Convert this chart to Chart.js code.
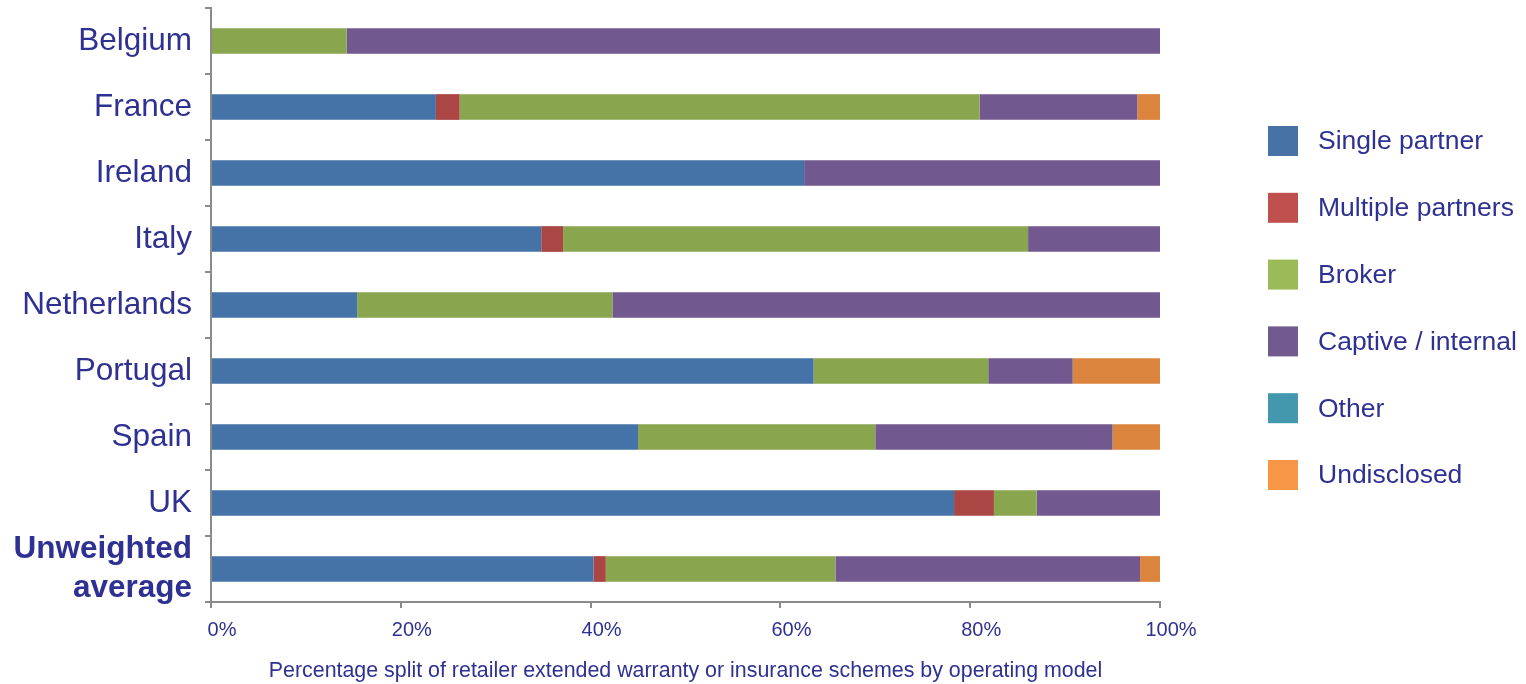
<!DOCTYPE html>
<html>
<head>
<meta charset="utf-8">
<script src="https://cdn.jsdelivr.net/npm/chart.js@4"></script>
<style>
  html, body { margin: 0; padding: 0; background: #fff; }
  #wrap { width: 1526px; height: 684px; }
</style>
</head>
<body>
<div id="wrap"><canvas id="chart"></canvas></div>
<script>
// --- Data (percent of schemes) ---
const categories = ['Belgium', 'France', 'Ireland', 'Italy', 'Netherlands', 'Portugal', 'Spain', 'UK', ['Unweighted', 'average']];
const seriesNames = ['Single partner', 'Multiple partners', 'Broker', 'Captive / internal', 'Other', 'Undisclosed'];
const singlePartner    = [0, 23.7, 62.5, 34.8, 15.4, 63.5, 45.0, 78.3, 40.3];
const multiplePartners = [0, 2.5, 0, 2.3, 0, 0, 0, 4.2, 1.3];
const broker           = [14.3, 54.8, 0, 49.0, 26.9, 18.4, 25.0, 4.5, 24.2];
const captive          = [85.7, 16.6, 37.5, 13.9, 57.7, 8.9, 25.0, 13.0, 32.1];
const other            = [0, 0, 0, 0, 0, 0, 0, 0, 0];
const undisclosed      = [0, 2.4, 0, 0, 0, 9.2, 5.0, 0, 2.1];
const xTicks = [0, 20, 40, 60, 80, 100];

const barColors    = ['#4572A7', '#AA4643', '#89A54E', '#71588F', '#4198AF', '#DB843D'];
const legendColors = ['#4672A6', '#C0504D', '#9BBB59', '#705A8E', '#4398AE', '#F79646'];
const textColor = '#2E3192';
const axisColor = '#8a8a8a';
const fontFamily = '"Liberation Sans", Arial, sans-serif';

const seriesData = [singlePartner, multiplePartners, broker, captive, other, undisclosed];

// --- Legend drawn on the right like the original ---
const sideLegend = {
  id: 'sideLegend',
  afterDraw(chart) {
    const ctx = chart.ctx;
    const area = chart.chartArea;
    const step = 66.8;
    const mid = (area.top + area.bottom) / 2 + 3;
    const startY = mid - step * (seriesNames.length - 1) / 2;
    ctx.save();
    ctx.font = '26.5px ' + fontFamily;
    ctx.textBaseline = 'middle';
    ctx.textAlign = 'left';
    seriesNames.forEach((name, i) => {
      const cy = startY + i * step;
      ctx.fillStyle = legendColors[i];
      ctx.fillRect(1268, cy - 15, 30, 30);
      ctx.fillStyle = textColor;
      ctx.fillText(name, 1318, cy + 1);
    });
    ctx.restore();
  }
};

const ctx = document.getElementById('chart').getContext('2d');
const chart = new Chart(ctx, {
  type: 'bar',
  data: {
    labels: categories,
    datasets: seriesNames.map((name, i) => ({
      label: name,
      data: seriesData[i],
      backgroundColor: barColors[i],
      borderWidth: 0,
      barPercentage: 0.39,
      categoryPercentage: 1
    }))
  },
  options: {
    indexAxis: 'y',
    responsive: true,
    maintainAspectRatio: false,
    animation: false,
    layout: { padding: { top: 8, right: 366, left: 0, bottom: 0 } },
    plugins: {
      legend: { display: false },
      tooltip: { enabled: false }
    },
    scales: {
      x: {
        stacked: true,
        min: 0,
        max: 100,
        afterFit: s => { s.height = 82; s.paddingLeft = 0; s.paddingRight = 0; },
        afterBuildTicks: s => { s.ticks = xTicks.map(v => ({ value: v })); },
        grid: { drawOnChartArea: false, drawTicks: true, tickLength: 6, color: axisColor, lineWidth: 2 },
        border: { color: axisColor, width: 2 },
        ticks: {
          color: textColor,
          font: { family: fontFamily, size: 20 },
          padding: 10,
          labelOffset: 11,
          maxRotation: 0,
          callback: v => v + '%'
        },
        title: {
          display: true,
          text: 'Percentage split of retailer extended warranty or insurance schemes by operating model',
          color: textColor,
          font: { family: fontFamily, size: 21.4 },
          padding: { top: 0, bottom: 0 }
        }
      },
      y: {
        stacked: true,
        afterFit: s => { s.width = 211; s.paddingTop = 0; s.paddingBottom = 0; },
        grid: { offset: true, drawOnChartArea: false, drawTicks: true, tickLength: 6, color: axisColor, lineWidth: 2 },
        border: { color: axisColor, width: 2 },
        ticks: {
          color: textColor,
          padding: 13,
          autoSkip: false,
          font: c => ({
            family: fontFamily,
            size: 31.5,
            weight: c.index === categories.length - 1 ? 'bold' : 'normal',
            lineHeight: 1.25
          })
        }
      }
    }
  },
  plugins: [sideLegend]
});
</script>
</body>
</html>
